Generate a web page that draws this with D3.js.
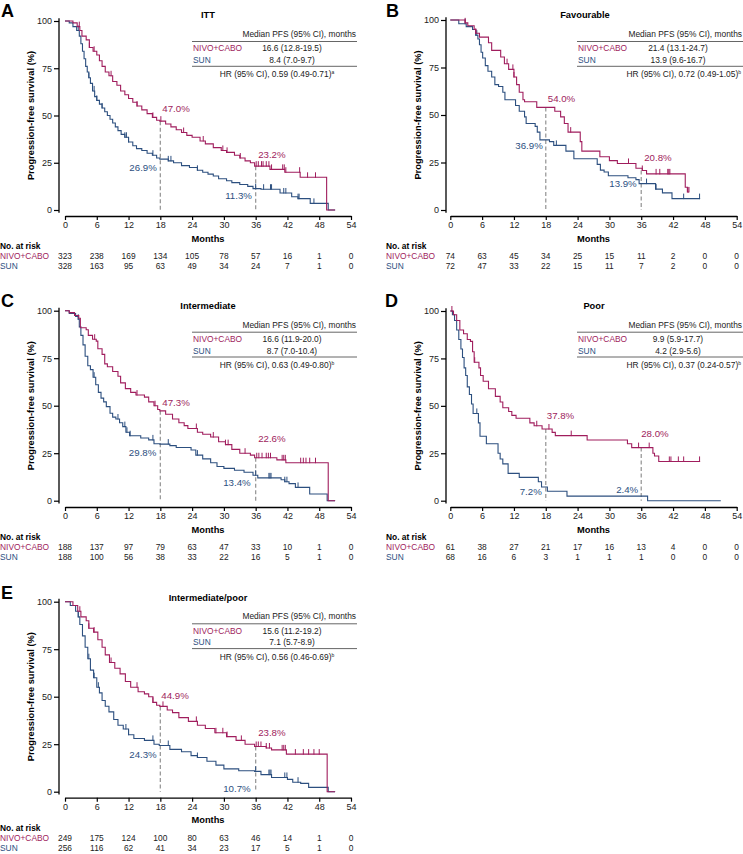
<!DOCTYPE html>
<html><head><meta charset="utf-8">
<script src="https://cdnjs.cloudflare.com/ajax/libs/d3/7.8.5/d3.min.js"></script>
<style>body{margin:0;background:#fff}svg{display:block;font-family:"Liberation Sans",Arial,Helvetica,sans-serif}</style>
</head><body><svg id="c" width="743" height="854"></svg>
<script>
const NIVO_COLOR = "#a01d5d", SUN_COLOR = "#2c4f7f";
const monthTicks = [0,6,12,18,24,30,36,42,48,54];
const survTicks = [0,25,50,75,100];
const landmarkMonths = [18,36];
const seriesNames = ["NIVO+CABO","SUN"];

// ---- ITT ----
const itt_nivo = [[0,100],[1.5,99],[2.3,97],[2.8,95],[3.2,92],[4,90],[4.6,86],[5.3,84],[6,82],[6.5,79],[7,76],[7.6,73],[8.3,71],[9,68],[9.8,66],[10.5,63],[11.3,61],[12,59],[12.8,57],[13.6,55],[14.5,53],[15.5,51],[16.5,49],[17.3,47.5],[17.9,47],[19,45.5],[20,44],[21,42.5],[22,41],[23,39.5],[24,38.5],[25.5,36.5],[26.5,35],[28,33],[29.5,31.5],[30.5,30.5],[32,29],[33,27.5],[34,26],[35,25],[35.8,23.2],[38.7,21.5],[41.5,20],[44.4,17.3],[49.4,0]];
const itt_sun = [[0,100],[0.8,99],[1.5,97],[2.2,95],[2.7,92],[3,88],[3.3,84],[3.6,80],[3.9,76],[4.2,73],[4.5,70],[4.8,67],[5.2,63],[5.6,60],[6,58],[6.5,56],[7,54],[7.5,52],[8,50],[8.5,48],[9,46],[9.5,44],[10,42],[10.6,40],[11.3,38.5],[12,36],[12.8,34],[13.5,32.5],[14.5,31.5],[15.5,30],[16.5,29],[17.3,27.5],[17.9,26.9],[19.5,26],[20.5,25],[22,23.5],[23.5,22.5],[25,21],[26,20],[27,19],[28,18],[29,16.5],[30.5,15.5],[31.5,14.5],[33,13.5],[34.5,12.5],[35.5,11.3],[37,11],[40.6,9],[42.8,7],[44,6],[46.3,3.5],[49.7,0]];
const itt_nivo_cens = [2.7,4.6,5.5,8.7,13.6,16.6,18.1,22.4,26.1,29.8,30.6,33.1,36.1,36.5,37.1,37.4,38,38.5,39,41.1,41.4,41.7,44.3,45.8,47.3];
const itt_sun_cens = [2.5,4.5,5.5,6,7,11.3,11.6,12,16.6,19.5,20,25,36,37.5,38.8,39,41.3,41.7,44,44.2,47];
const itt_risk_nivo = [323,238,169,134,105,78,57,16,1,0];
const itt_risk_sun = [328,163,95,63,49,34,24,7,1,0];
const itt_landmark = [47.0,26.9,23.2,11.3];
const itt_median = ["16.6 (12.8-19.5)","8.4 (7.0-9.7)"];
const itt_hr = ["HR (95% CI), 0.59 (0.49-0.71)","a"];

// ---- Favourable ----
const fav_nivo = [[0,100],[2.8,98.5],[3.3,97],[4.5,95],[4.8,93],[5.5,91],[7.2,88],[7.8,84],[9.5,80.5],[10.2,77],[11,74],[12,70],[12.5,66],[13,62],[13.7,58],[14,57],[16.3,54],[19.7,52],[20.8,49],[21.5,45.5],[22.2,41],[24.5,36],[24.8,31],[28.2,28],[30,26],[31.5,24.5],[35,22],[36.2,20.8],[37,19],[44.3,12],[44.7,9.5]];
const fav_sun = [[0,100],[1.6,98],[3,96.5],[4.2,95],[4.8,92],[5.2,90],[5.5,87],[5.8,83],[6.1,80],[6.6,76],[7.1,73],[7.8,70],[8.4,66],[9.1,65],[9.9,62],[10.3,58],[12.3,55],[13,52],[14,49],[14.3,45.5],[16,44],[16.4,41],[16.9,36.9],[18.7,36],[19.5,34],[21.8,31],[23.3,27],[27.7,24],[28.3,21],[29,20],[29.8,18],[33.5,17],[35,16],[35.6,13.9],[38.7,11],[40,9],[41.8,6]];
const fav_nivo_cens = [2.8,4.8,10.7,11.8,12,22.7,33.6,36.2,38.8,39.5,41,41.2,41.4,44.8,45];
const fav_sun_cens = [2.8,4.8,5,20,37,38.8,44,47];
const fav_risk_nivo = [74,63,45,34,25,15,11,2,0,0];
const fav_risk_sun = [72,47,33,22,15,11,7,2,0,0];
const fav_landmark = [54.0,36.9,20.8,13.9];
const fav_median = ["21.4 (13.1-24.7)","13.9 (9.6-16.7)"];
const fav_hr = ["HR (95% CI), 0.72 (0.49-1.05)","b"];

// ---- Intermediate ----
const int_nivo = [[0,100],[0.8,99],[1.8,97.5],[2.6,96],[2.9,91],[4,90],[4.4,87],[5.2,85],[5.9,84],[6.2,80],[7,77],[7.5,72],[8,70.5],[9,68],[10,65.5],[10.5,62],[11.4,59],[12.4,57],[13.4,55.6],[15,54.5],[15.8,52],[16.8,50],[17.5,48],[17.9,47.3],[19,45.5],[20.3,43],[21.5,41],[22.5,39.5],[23.2,38],[25,36],[26,35],[27.5,33.5],[29,31],[30.3,29.5],[31.5,27],[33,25],[35,24],[35.8,22.6],[40,21.5],[41.7,20],[49.7,0]];
const int_sun = [[0,100],[0.8,98.5],[2,97],[2.5,95.5],[2.7,91.5],[3,87],[3.4,82],[3.8,76],[4.3,71],[4.8,69],[5.3,65],[5.8,61],[6.3,57],[6.8,54],[7.3,52],[7.8,49.5],[8.5,46],[9,44],[9.6,43],[10.3,41],[10.9,39],[11.5,36],[12.2,34.2],[14.3,33],[15.8,32],[16.8,30],[17.9,29.8],[19.8,29],[21,28],[23.8,26.7],[24.7,24],[26,22],[27.5,20],[28.7,18],[30,17],[32,16],[33.8,15],[35.5,13.4],[36.4,12],[40.8,11],[41.5,10],[42.3,9],[43.5,7],[46.2,3.5],[49.5,0]];
const int_nivo_cens = [5.6,13.6,17,24.8,28,30.3,30.8,34,36.2,36.6,37.2,38,38.4,38.8,41,41.3,41.6,44.5,45,45.5,46.2,47.3];
const int_sun_cens = [2.5,5.5,10,11.3,11.7,12.3,16.6,19.5,25,36,38.5,38.7,38.9,41.5,41.9,44];
const int_risk_nivo = [188,137,97,79,63,47,33,10,1,0];
const int_risk_sun = [188,100,56,38,33,22,16,5,1,0];
const int_landmark = [47.3,29.8,22.6,13.4];
const int_median = ["16.6 (11.9-20.0)","8.7 (7.0-10.4)"];
const int_hr = ["HR (95% CI), 0.63 (0.49-0.80)","b"];

// ---- Poor ----
const poor_nivo = [[0,100],[0.6,98],[1.2,95],[1.8,90],[2.5,88],[3.2,85],[3.8,84],[4.2,78.5],[4.5,73],[5.4,70],[5.7,66],[6.2,63],[7.2,59],[8.5,55],[9.4,52],[9.9,49],[11,47],[11.6,45],[12.4,43.5],[15,41],[15.8,39.5],[17.3,37.8],[19.2,36],[19.8,34.3],[25.8,32],[33.4,30],[34.2,28],[38.2,25],[38.5,23.6],[39.3,20.7]];
const poor_sun = [[0,100],[0.4,98],[0.8,95],[1.2,90],[1.6,85],[2,80],[2.3,75.5],[2.6,70],[2.9,66],[3.2,60],[3.6,56],[4,51],[4.3,46],[5.3,41],[5.6,34],[6.8,30],[9,25],[9.4,22],[9.9,19.4],[10.9,14.4],[13,12.3],[16.6,10],[17.2,7.2],[18.3,5],[22,2.4],[37.2,0]];
const poor_nivo_cens = [0.3,4.6,16.3,18.6,22.8,35.5,37.5,41.3,41.6,43,44,47];
const poor_sun_cens = [5];
const poor_risk_nivo = [61,38,27,21,17,16,13,4,0,0];
const poor_risk_sun = [68,16,6,3,1,1,1,0,0,0];
const poor_landmark = [37.8,7.2,28.0,2.4];
const poor_median = ["9.9 (5.9-17.7)","4.2 (2.9-5.6)"];
const poor_hr = ["HR (95% CI), 0.37 (0.24-0.57)","b"];

// ---- Intermediate/poor ----
const ip_nivo = [[0,100],[1.5,98],[2.4,95],[3,92],[4,90],[4.5,86],[5.4,84],[6.2,80],[7,76],[7.6,72],[8.4,68],[9.4,65],[10.4,62],[11.4,58],[12.4,55],[13.8,52.6],[15,51.5],[15.8,50],[16.6,47],[17.3,45.5],[17.9,44.9],[19.3,43],[20.3,41.6],[21.5,39],[23.3,37],[25,35],[26.5,33.3],[28.3,31],[30.5,29],[32.3,27],[34,25],[35.8,23.8],[38,23],[39,22],[41.8,19.8],[49.5,0]];
const ip_sun = [[0,100],[1,98],[2,95],[2.5,92],[2.8,88],[3.3,82],[3.8,76],[4.3,70],[4.8,64],[5.4,60],[6,55],[6.5,52],[7,48],[7.6,45],[8.3,42],[9.2,38],[10,35],[11,33],[12,30],[13,28],[15,27],[16.8,25],[17.8,24.3],[19.8,22.3],[22,21],[23.8,19],[25,18],[26.8,16],[28.5,14],[30,12],[32.8,11],[35.8,10.7],[37,9],[39,7.5],[42,6.5],[43,5],[44.5,4.4],[46,2.3],[49.7,0]];
const ip_nivo_cens = [2.8,4.5,5.5,8.7,13.6,16.6,18.5,24.8,28.5,29.8,30.6,33.3,36.1,36.5,37,38,38.6,41,41.3,41.6,43.5,45,46,47,48];
const ip_sun_cens = [2.5,4.5,5.5,6.3,11.5,12,16.6,19.5,25,36,38.5,38.7,38.9,41.5,41.9,44];
const ip_risk_nivo = [249,175,124,100,80,63,46,14,1,0];
const ip_risk_sun = [256,116,62,41,34,23,17,5,1,0];
const ip_landmark = [44.9,24.3,23.8,10.7];
const ip_median = ["15.6 (11.2-19.2)","7.1 (5.7-8.9)"];
const ip_hr = ["HR (95% CI), 0.56 (0.46-0.69)","b"];

// ---- layout (positions only) ----
const panels = [
  {letter:"A", title:"ITT", nivo:itt_nivo, sun:itt_sun, nEnd:51, sEnd:51, nC:itt_nivo_cens, sC:itt_sun_cens, rN:itt_risk_nivo, rS:itt_risk_sun, lm:itt_landmark, med:itt_median, hr:itt_hr,
   x0:65, x1:351, yTop:21, yBot:210, axX:59, axY:216, letX:1, letY:17, titleX:208, titleY:15, tL:192, tR:357, valX:292, hrX:277, hrAnchor:"middle", rowX:0,
   lmOff:[[2,-13],[-3.5,8],[2.5,-12],[-3.7,6.5]]},
  {letter:"B", title:"Favourable", nivo:fav_nivo, sun:fav_sun, nEnd:45, sEnd:47.1, nC:fav_nivo_cens, sC:fav_sun_cens, rN:fav_risk_nivo, rS:fav_risk_sun, lm:fav_landmark, med:fav_median, hr:fav_hr,
   x0:450.3, x1:736.7, yTop:20, yBot:210, axX:446, axY:216, letX:386, letY:17, titleX:585, titleY:15, tL:577, tR:743, valX:678, hrX:741, hrAnchor:"end", rowX:386,
   lmOff:[[2,-8.5],[-3,6],[3,-12.5],[-4.5,0]]},
  {letter:"C", title:"Intermediate", nivo:int_nivo, sun:int_sun, nEnd:51, sEnd:51, nC:int_nivo_cens, sC:int_sun_cens, rN:int_risk_nivo, rS:int_risk_sun, lm:int_landmark, med:int_median, hr:int_hr,
   x0:65, x1:351, yTop:310.7, yBot:500.7, axX:59, axY:507, letX:1, letY:307, titleX:208, titleY:305.7, tL:192, tR:357, valX:292, hrX:277, hrAnchor:"middle", rowX:0,
   lmOff:[[2,-8],[-4,8.5],[2.5,-19],[-5,7]]},
  {letter:"D", title:"Poor", nivo:poor_nivo, sun:poor_sun, nEnd:47.1, sEnd:51, nC:poor_nivo_cens, sC:poor_sun_cens, rN:poor_risk_nivo, rS:poor_risk_sun, lm:poor_landmark, med:poor_median, hr:poor_hr,
   x0:450.3, x1:736.7, yTop:311, yBot:500.7, axX:446, axY:507, letX:385, letY:307, titleX:594, titleY:305.7, tL:577, tR:743, valX:678, hrX:741, hrAnchor:"end", rowX:386,
   lmOff:[[1,-13],[-4,4],[0,-14],[-3,-7]]},
  {letter:"E", title:"Intermediate/poor", nivo:ip_nivo, sun:ip_sun, nEnd:51, sEnd:51, nC:ip_nivo_cens, sC:ip_sun_cens, rN:ip_risk_nivo, rS:ip_risk_sun, lm:ip_landmark, med:ip_median, hr:ip_hr,
   x0:65, x1:351, yTop:601.7, yBot:791.7, axX:59, axY:797.7, letX:1, letY:599, titleX:208, titleY:597.3, tL:192, tR:357, valX:292, hrX:277, hrAnchor:"middle", rowX:0,
   lmOff:[[1,-10.7],[-3.6,9],[2.5,-14],[-5,17]]}
];

const svg = d3.select("#c");
function survAt(steps,t){let s=steps[0][1];for(const [ti,si] of steps){if(ti<=t)s=si;else break;}return s;}

panels.forEach(p=>{
  const g = svg.append("g");
  const x = d3.scaleLinear().domain([0,54]).range([p.x0,p.x1]);
  const y = d3.scaleLinear().domain([0,100]).range([p.yBot,p.yTop]);

  // letter
  g.append("text").attr("x",p.letX).attr("y",p.letY).attr("font-size",18).attr("font-weight","bold").text(p.letter);
  // title
  g.append("text").attr("x",p.titleX).attr("y",p.titleY+3.3).attr("text-anchor","middle").attr("font-size",9.3).attr("font-weight","bold").text(p.title);

  // y axis
  const ya = g.append("g").attr("transform",`translate(${p.axX},0)`)
    .call(d3.axisLeft(y).tickValues(survTicks).tickSize(5).tickSizeOuter(0).tickPadding(2));
  ya.select(".domain").remove();
  ya.selectAll("line").attr("stroke","#000").attr("stroke-width",1.2);
  ya.selectAll("text").attr("font-size",9).attr("font-family","Liberation Sans, Arial, sans-serif").attr("fill","#222");
  g.append("line").attr("x1",p.axX).attr("x2",p.axX).attr("y1",y(-1.5)).attr("y2",y(101.5)).attr("stroke","#000").attr("stroke-width",1.3);
  g.append("text").attr("transform",`translate(${p.axX-28},${(y(0)+y(100))/2}) rotate(-90)`)
    .attr("text-anchor","middle").attr("dominant-baseline","central").attr("font-size",9.3).attr("font-weight","bold").text("Progression-free survival (%)");

  // x axis
  const xa = g.append("g").attr("transform",`translate(0,${p.axY})`)
    .call(d3.axisBottom(x).tickValues(monthTicks).tickSize(4).tickSizeOuter(0).tickPadding(2));
  xa.select(".domain").attr("stroke","#000").attr("stroke-width",1.3);
  xa.selectAll("line").attr("stroke","#000").attr("stroke-width",1.2);
  xa.selectAll("text").attr("font-size",9).attr("font-family","Liberation Sans, Arial, sans-serif").attr("fill","#222");
  g.append("text").attr("x",(p.x0+p.x1)/2).attr("y",p.axY+25.5).attr("text-anchor","middle").attr("font-size",9.3).attr("font-weight","bold").text("Months");

  // landmark dashed lines
  landmarkMonths.forEach((m,i)=>{
    g.append("line").attr("x1",x(m)).attr("x2",x(m)).attr("y1",y(p.lm[i*2])).attr("y2",y(0))
      .attr("stroke","#9a9a9a").attr("stroke-width",1.3).attr("stroke-dasharray","4,2.5");
  });

  // curves
  const line = d3.line().x(d=>x(d[0])).y(d=>y(d[1])).curve(d3.curveStepAfter);
  [[p.sun,p.sEnd,p.sC,SUN_COLOR],[p.nivo,p.nEnd,p.nC,NIVO_COLOR]].forEach(([steps,end,cens,col])=>{
    const pts = steps.concat([[end, steps[steps.length-1][1]]]);
    g.append("path").attr("d",line(pts)).attr("fill","none").attr("stroke",col).attr("stroke-width",1.1);
    g.selectAll(null).data(cens).enter().append("line")
      .attr("x1",d=>x(d)).attr("x2",d=>x(d)).attr("y1",d=>y(survAt(steps,d))+0.5).attr("y2",d=>y(survAt(steps,d))-5)
      .attr("stroke",col).attr("stroke-width",1);
  });

  // landmark labels
  landmarkMonths.forEach((m,i)=>{
    const vn = p.lm[i*2], vs = p.lm[i*2+1];
    const on = p.lmOff[i*2], os = p.lmOff[i*2+1];
    g.append("text").attr("x",x(m)+on[0]).attr("y",y(vn)+on[1]).attr("dominant-baseline","central")
      .attr("font-size",9.7).attr("fill",NIVO_COLOR).text(vn.toFixed(1)+"%");
    g.append("text").attr("x",x(m)+os[0]).attr("y",y(vs)+os[1]).attr("dominant-baseline","central").attr("text-anchor","end")
      .attr("font-size",9.7).attr("fill",SUN_COLOR).text(vs.toFixed(1)+"%");
  });

  // summary table
  const ty = p.titleY;
  const fs = 8.4;
  g.append("text").attr("x",p.tR-1).attr("y",ty+19+3).attr("text-anchor","end").attr("font-size",fs).attr("fill","#222").text("Median PFS (95% CI), months");
  g.append("line").attr("x1",p.tL).attr("x2",p.tR).attr("y1",ty+26.5).attr("y2",ty+26.5).attr("stroke","#555").attr("stroke-width",0.9);
  g.append("text").attr("x",p.tL+1).attr("y",ty+33.3+3).attr("font-size",fs).attr("fill",NIVO_COLOR).text(seriesNames[0]);
  g.append("text").attr("x",p.valX).attr("y",ty+33.3+3).attr("text-anchor","middle").attr("font-size",fs).attr("fill","#222").text(p.med[0]);
  g.append("text").attr("x",p.tL+1).attr("y",ty+44.8+3).attr("font-size",fs).attr("fill",SUN_COLOR).text(seriesNames[1]);
  g.append("text").attr("x",p.valX).attr("y",ty+44.8+3).attr("text-anchor","middle").attr("font-size",fs).attr("fill","#222").text(p.med[1]);
  g.append("line").attr("x1",p.tL).attr("x2",p.tR).attr("y1",ty+51.3).attr("y2",ty+51.3).attr("stroke","#555").attr("stroke-width",0.9);
  const hrT = g.append("text").attr("x",p.hrX).attr("y",ty+59.2+3).attr("text-anchor",p.hrAnchor).attr("font-size",fs).attr("fill","#222");
  hrT.append("tspan").text(p.hr[0]);
  hrT.append("tspan").attr("font-size",5).attr("dy",-3).text(p.hr[1]);

  // risk table
  const rb = p.axY;
  g.append("text").attr("x",p.rowX).attr("y",rb+33.3).attr("font-size",8.4).attr("font-weight","bold").text("No. at risk");
  g.append("text").attr("x",p.rowX).attr("y",rb+43.3).attr("font-size",8.4).attr("fill",NIVO_COLOR).text(seriesNames[0]);
  g.append("text").attr("x",p.rowX).attr("y",rb+53.3).attr("font-size",8.4).attr("fill",SUN_COLOR).text(seriesNames[1]);
  g.selectAll(null).data(monthTicks).enter().append("text")
    .attr("x",d=>x(d)).attr("y",rb+43.3).attr("text-anchor","middle").attr("font-size",8.4).attr("fill","#222")
    .text((d,i)=>p.rN[i]);
  g.selectAll(null).data(monthTicks).enter().append("text")
    .attr("x",d=>x(d)).attr("y",rb+53.3).attr("text-anchor","middle").attr("font-size",8.4).attr("fill","#222")
    .text((d,i)=>p.rS[i]);
});
</script></body></html>
